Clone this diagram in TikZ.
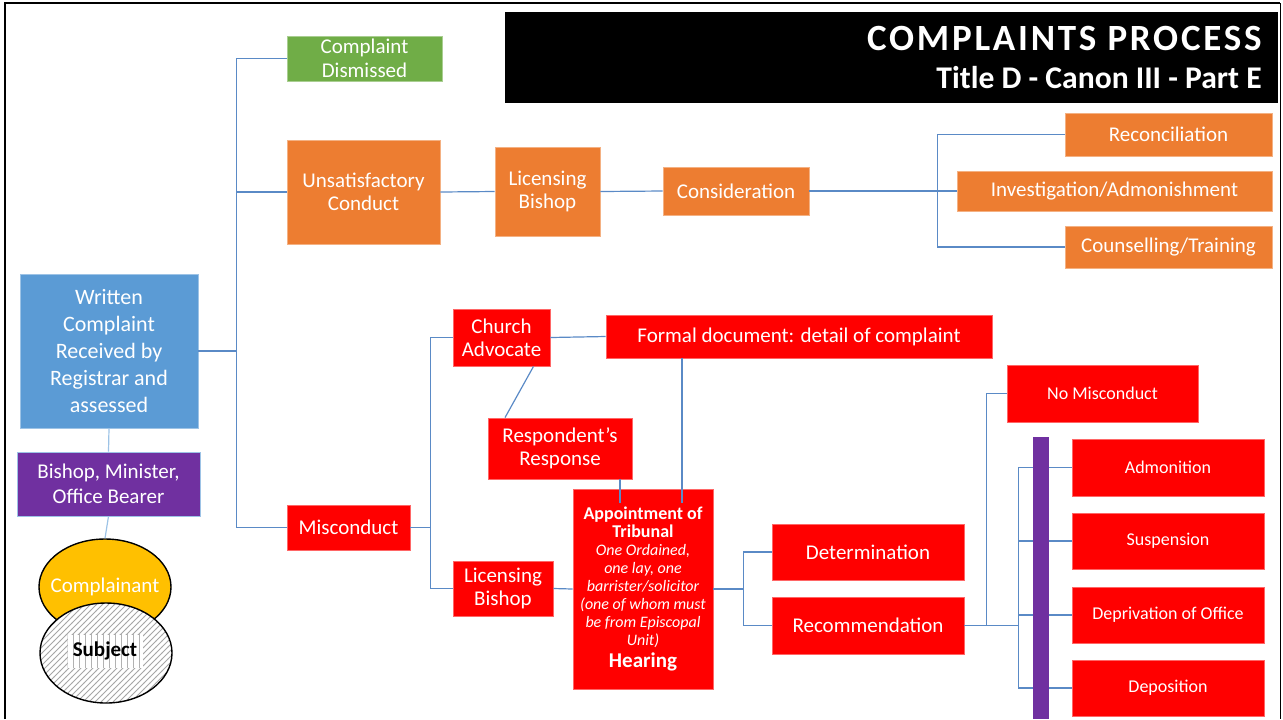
\documentclass[tikz,border=0pt]{standalone}
\usepackage{fontspec}
\setmainfont{Carlito}
\usepackage{xcolor}
\usepackage{tikz}
\usetikzlibrary{shapes.geometric, patterns}

\definecolor{cgreen}{HTML}{70AD47}
\definecolor{corange}{HTML}{ED7D31}
\definecolor{cblue}{HTML}{5B9BD5}
\definecolor{cpurple}{HTML}{7030A0}
\definecolor{cred}{HTML}{FF0000}
\definecolor{cyellow}{HTML}{FFC000}
\definecolor{clink}{HTML}{5A8AC6}

\newcommand{\tribhead}{\fontsize{9}{11.5}\selectfont\upshape\bfseries}
\newcommand{\tribnote}{\fontsize{8}{9}\selectfont\mdseries\itshape}
\newcommand{\tribfoot}{\fontsize{10.5}{12.5}\selectfont\upshape\bfseries}

\begin{document}
\begin{tikzpicture}[x=0.5pt, y=-0.5pt,
    box/.style={rectangle, inner sep=0pt, align=center, text=white,
      line width=0.4pt, font=\fontsize{10.5}{11.5}\selectfont},
    redbox/.style={box, fill=cred, draw=cred!60!white},
    orangebox/.style={box, fill=corange, draw=corange!60!white},
    small/.style={font=\fontsize{9}{11}\selectfont},
    link/.style={draw=clink, line width=0.6pt}]
  \useasboundingbox (0,0) rectangle (1283,719);

  % frame and title
  \draw[line width=1.2pt] (5,719) -- (5,3) -- (1280,3);
  \draw[line width=0.5pt] (1280,3) -- (1280,719);
  \fill[black] (505,12) rectangle (1278,103);
  \node[anchor=base east, text=white, inner sep=0pt,
        font=\fontsize{18.5}{20}\selectfont\bfseries\addfontfeature{LetterSpace=7.5}]
        (title) at (1262,50) {COMPLAINTS PROCESS};
  \node[anchor=base east, text=white, inner sep=0pt,
        font=\fontsize{15.8}{18}\selectfont\bfseries]
        (subtitle) at (1262,88) {Title D - Canon III - Part E};

  % left column
  \node[box, fill=cblue, draw=cblue!60!white, minimum width=89pt, minimum height=77pt,
        font=\fontsize{11}{13.5}\selectfont] (written) at (109,351)
        {Written\\Complaint\\Received by\\Registrar and\\assessed};
  \node[box, fill=cpurple, draw=cblue!60!white, minimum width=91.5pt, minimum height=32pt,
        font=\fontsize{10.5}{12.5}\selectfont] (bishop) at (108.5,484)
        {Bishop, Minister,\\Office Bearer};
  \node[ellipse, draw=black, line width=0.7pt, fill=cyellow, text=white, inner sep=0pt,
        minimum width=66pt, minimum height=48pt, font=\fontsize{10.5}{12}\selectfont]
        (complainant) at (105,587) {\makebox[0pt]{Complainant}};
  \node[ellipse, draw=black, line width=0.7pt, preaction={fill=white},
        pattern=north east lines, pattern color=gray!70,
        minimum width=66pt, minimum height=50pt] (subject) at (106,653) {};
  \node[preaction={fill=white}, pattern=vertical lines, pattern color=gray!60,
        inner sep=0pt, minimum width=37.5pt, minimum height=16.5pt,
        font=\fontsize{10.5}{12}\selectfont\bfseries] (subjtxt) at (105,651) {Subject};

  % first split
  \node[box, fill=cgreen, draw=cgreen!60!white, minimum width=77.5pt, minimum height=22.5pt,
        font=\fontsize{10.5}{12}\selectfont] (dismissed) at (364.5,58.5)
        {Complaint\\Dismissed};
  \node[orangebox, minimum width=76.5pt, minimum height=52pt] (unsat) at (363.5,192)
        {Unsatisfactory\\Conduct};
  \node[redbox, minimum width=61.5pt, minimum height=22.5pt] (miscon) at (348.5,527.5)
        {Misconduct};

  % unsatisfactory conduct branch
  \node[orangebox, minimum width=52.5pt, minimum height=44.5pt] (licA) at (547.5,191.5)
        {Licensing\\Bishop};
  \node[orangebox, minimum width=73pt, minimum height=24pt] (consid) at (736,191)
        {Consideration};
  \node[orangebox, minimum width=103.5pt, minimum height=21.5pt] (recon) at (1168.5,134.5)
        {Reconciliation};
  \node[orangebox, minimum width=157.5pt, minimum height=20pt] (invest) at (1114.5,191)
        {Investigation/Admonishment};
  \node[orangebox, minimum width=103.5pt, minimum height=21pt] (counsel) at (1168.5,247)
        {Counselling/Training};

  % misconduct branch
  \node[redbox, minimum width=48.5pt, minimum height=28.5pt] (church) at (501.5,337.5)
        {Church\\Advocate};
  \node[redbox, minimum width=193pt, minimum height=21.5pt] (formal) at (799,336.5)
        {Formal document: detail of complaint};
  \node[redbox, minimum width=72pt, minimum height=30.5pt] (respond) at (560,448.5)
        {Respondent’s\\Response};
  \node[redbox, minimum width=50pt, minimum height=27.5pt] (licB) at (503,588.5)
        {Licensing\\Bishop};
  \node[redbox, minimum width=70pt, minimum height=100pt, font=\tribnote]
        (tribunal) at (643,589)
        {\tribhead Appointment of\\ \tribhead Tribunal\\
         \tribnote One Ordained,\\ \tribnote one lay, one\\ \tribnote barrister/solicitor\\
         \tribnote (one of whom must\\ \tribnote be from Episcopal\\ \tribnote Unit)\\[2pt]
         \tribfoot Hearing};
  \node[redbox, minimum width=96pt, minimum height=28pt] (determ) at (868,552)
        {Determination};
  \node[redbox, minimum width=96pt, minimum height=28.5pt] (recomm) at (868,625.5)
        {Recommendation};
  \node[redbox, small, minimum width=95.5pt, minimum height=28.5pt] (nomis) at (1102.5,393.5)
        {No Misconduct};
  \node[redbox, small, minimum width=96pt, minimum height=28.5pt] (admon) at (1168,467.5)
        {Admonition};
  \node[redbox, small, minimum width=96pt, minimum height=28pt] (susp) at (1168,541)
        {Suspension};
  \node[redbox, small, minimum width=96pt, minimum height=28pt] (depriv) at (1168,615)
        {Deprivation of Office};
  \node[redbox, small, minimum width=96pt, minimum height=28pt] (depos) at (1168,688)
        {Deposition};

  % connectors
  \draw[link] (written.east) -- ++(38,0) coordinate (trunk) |- (dismissed.west);
  \draw[link] (trunk) |- (unsat.west);
  \draw[link] (trunk) |- (miscon.west);
  \draw[link, draw=cblue!60!white] (written.south) -- (bishop.north);
  \draw[link, draw=cblue!60!white] (bishop.south) -- (complainant.north);

  \draw[link] (unsat.east) -- (licA.west);
  \draw[link] (licA.east) -- (consid.west);
  \draw[link] (consid.east) -- ++(128,0) coordinate (cfork) |- (recon.west);
  \draw[link] (cfork) -- (invest.west);
  \draw[link] (cfork) |- (counsel.west);

  \draw[link] (miscon.east) -- ++(20,0) coordinate (mfork) |- (church.west);
  \draw[link] (mfork) |- (licB.west);
  \draw[link] (church.east) -- (formal.west);
  \draw[link] ([xshift=16pt]church.south) -- ([xshift=-27.5pt]respond.north);
  \draw[link] ([xshift=30pt]respond.south) -- ([xshift=-11.5pt,yshift=-7pt]tribunal.north);
  \draw[link] ([xshift=-58.5pt]formal.south) -- ([xshift=19.5pt,yshift=-7pt]tribunal.north);
  \draw[link] (licB.east) -- (tribunal.west);
  \draw[link] (tribunal.east) -- ++(30,0) coordinate (tfork) |- (determ.west);
  \draw[link] (tfork) |- (recomm.west);

  \draw[link] (recomm.east) -- ++(22,0) coordinate (rfork) |- (nomis.west);
  \draw[link] (recomm.east) -- ++(54,0) coordinate (pfork) |- (admon.west);
  \draw[link] (pfork) |- (susp.west);
  \draw[link] (pfork) |- (depriv.west);
  \draw[link] (pfork) |- (depos.west);

  % penalty bar
  \fill[cpurple] (1033,437) rectangle (1049,719);
\end{tikzpicture}
\end{document}
